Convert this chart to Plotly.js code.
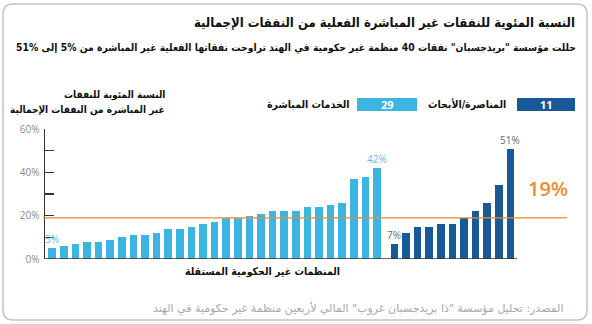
<!DOCTYPE html>
<html>
<head>
<meta charset="utf-8">
<script src="https://cdn.plot.ly/plotly-3.0.1.min.js"></script>
<style>html,body{margin:0;padding:0;background:#fff;}#chart{width:592px;height:324px;}</style>
</head>
<body>
<div id="chart"></div>
<script>
// Data
const directServiceValues = [5,6,7,8,8,9,10,11,11,12,14,14,15,16,17,19,19,20,21,22,22,22,24,24,25,26,37,38,42];
const advocacyValues = [7,12,15,15,16,16,19,22,26,34,51];
const averageValue = 19;
const yTickVals = [0,10,20,30,40,50,60];
const yTickText = ['0%','','20%','','40%','','60%'];
const titleText = 'النسبة المئوية للنفقات غير المباشرة الفعلية من النفقات الإجمالية';
const subtitleText = 'حللت مؤسسة "بريدجسبان" نفقات 40 منظمة غير حكومية في الهند تراوحت نفقاتها الفعلية غير المباشرة من %5 إلى %51';
const yTitleLine1 = 'النسبة المئوية للنفقات';
const yTitleLine2 = 'غير المباشرة من النفقات الإجمالية';
const xTitleText = 'المنظمات غير الحكومية المستقلة';
const legendDirect = 'الخدمات المباشرة';
const legendAdvocacy = 'المناصرة/الأبحاث';
const sourceText = 'المصدر: تحليل مؤسسة "ذا بريدجسبان غروب" المالي لأربعين منظمة غير حكومية في الهند';

const lightBlue = '#3db5e2';
const darkBlue = '#175a97';
const orange = '#f08a2c';
const AR = 'DejaVu Sans Condensed, DejaVu Sans';
const AR_WIDE = 'DejaVu Sans';
const NUM = 'Open Sans';

// x positions (gap between groups)
const xDirect = directServiceValues.map((v,i)=>i+1);
const xAdv = advocacyValues.map((v,i)=>directServiceValues.length+1.5+i);

const L=45, R=567, T=129, B=259;
const px = x => (x-L)/(R-L);
const py = y => (B-y)/(B-T);

const traces = [
  {type:'bar', x:xDirect, y:directServiceValues, width:0.66, marker:{color:lightBlue}, hoverinfo:'y', showlegend:false},
  {type:'bar', x:xAdv, y:advocacyValues, width:0.66, marker:{color:darkBlue}, hoverinfo:'y', showlegend:false}
];

function rr(x0,y0,x1,y1,r){
  const X=px, Y=py;
  return `M${X(x0+r)},${Y(y0)} L${X(x1-r)},${Y(y0)} Q${X(x1)},${Y(y0)} ${X(x1)},${Y(y0+r)} L${X(x1)},${Y(y1-r)} Q${X(x1)},${Y(y1)} ${X(x1-r)},${Y(y1)} L${X(x0+r)},${Y(y1)} Q${X(x0)},${Y(y1)} ${X(x0)},${Y(y1-r)} L${X(x0)},${Y(y0+r)} Q${X(x0)},${Y(y0)} ${X(x0+r)},${Y(y0)} Z`;
}

const shapes = [
  {type:'path', xref:'paper', yref:'paper', path:rr(3,4,587,320,10), line:{color:'#c4c4c4', width:1.5}, layer:'below'},
  {type:'line', xref:'x', yref:'y', x0:0.38, x1:xAdv[xAdv.length-1]+0.6, y0:0, y1:0, line:{color:'#333', width:1.5}},
  {type:'line', xref:'paper', yref:'y', x0:px(43), x1:1, y0:averageValue, y1:averageValue, line:{color:orange, width:1.3}},
  {type:'rect', xref:'paper', yref:'paper', x0:px(517), x1:px(575), y0:py(111), y1:py(98), fillcolor:darkBlue, line:{width:0}},
  {type:'rect', xref:'paper', yref:'paper', x0:px(357), x1:px(417), y0:py(111), y1:py(98), fillcolor:lightBlue, line:{width:0}}
];

const nD = directServiceValues.length, nA = advocacyValues.length;
const annotations = [
  {xref:'paper', yref:'paper', x:px(577), y:py(22), xanchor:'right', yanchor:'middle', showarrow:false, text:'<b>'+titleText+'</b>', font:{family:AR, size:13, color:'#111'}},
  {xref:'paper', yref:'paper', x:px(578), y:py(47), xanchor:'right', yanchor:'middle', showarrow:false, text:'<b>'+subtitleText+'</b>', font:{family:AR, size:10.3, color:'#111'}},
  {xref:'paper', yref:'paper', x:px(167), y:py(95), xanchor:'right', yanchor:'middle', showarrow:false, text:'<b>'+yTitleLine1+'</b>', font:{family:AR, size:10, color:'#111'}},
  {xref:'paper', yref:'paper', x:px(167), y:py(110), xanchor:'right', yanchor:'middle', showarrow:false, text:'<b>'+yTitleLine2+'</b>', font:{family:AR, size:10, color:'#111'}},
  {xref:'paper', yref:'paper', x:px(342), y:py(271), xanchor:'right', yanchor:'middle', showarrow:false, text:'<b>'+xTitleText+'</b>', font:{family:AR, size:10.5, color:'#111'}},
  {xref:'paper', yref:'paper', x:px(566), y:py(308), xanchor:'right', yanchor:'middle', showarrow:false, text:sourceText, font:{family:AR_WIDE, size:11, color:'#a8a8a8'}},
  {xref:'paper', yref:'paper', x:px(546), y:py(104.5), xanchor:'center', yanchor:'middle', showarrow:false, text:'<b>'+nA+'</b>', font:{family:NUM, size:11, color:'#fff'}},
  {xref:'paper', yref:'paper', x:px(387), y:py(104.5), xanchor:'center', yanchor:'middle', showarrow:false, text:'<b>'+nD+'</b>', font:{family:NUM, size:11, color:'#fff'}},
  {xref:'paper', yref:'paper', x:px(508), y:py(104), xanchor:'right', yanchor:'middle', showarrow:false, text:'<b>'+legendAdvocacy+'</b>', font:{family:AR, size:10.5, color:'#111'}},
  {xref:'paper', yref:'paper', x:px(352), y:py(104), xanchor:'right', yanchor:'middle', showarrow:false, text:'<b>'+legendDirect+'</b>', font:{family:AR, size:10.5, color:'#111'}},
  {xref:'x', yref:'y', x:xDirect[0], y:directServiceValues[0], yanchor:'bottom', xanchor:'center', showarrow:false, text:directServiceValues[0]+'%', font:{family:NUM, size:10, color:'#5cc0ea'}},
  {xref:'x', yref:'y', x:xDirect[nD-1], y:directServiceValues[nD-1], yanchor:'bottom', xanchor:'center', showarrow:false, text:directServiceValues[nD-1]+'%', font:{family:NUM, size:10, color:'#5cc0ea'}},
  {xref:'x', yref:'y', x:xAdv[0], y:advocacyValues[0], yanchor:'bottom', xanchor:'center', showarrow:false, text:advocacyValues[0]+'%', font:{family:NUM, size:10, color:'#5d6f82'}},
  {xref:'x', yref:'y', x:xAdv[nA-1], y:advocacyValues[nA-1], yanchor:'bottom', xanchor:'center', showarrow:false, text:advocacyValues[nA-1]+'%', font:{family:NUM, size:10, color:'#5d6f82'}},
  {xref:'paper', yref:'paper', x:px(548), y:py(188.5), xanchor:'center', yanchor:'middle', showarrow:false, text:averageValue+'%', font:{family:NUM, size:20, weight:600, color:orange}}
];

const layout = {
  width:592, height:324,
  margin:{l:L, r:592-R, t:T, b:324-B, pad:0},
  paper_bgcolor:'#fff', plot_bgcolor:'rgba(0,0,0,0)',
  bargap:0,
  xaxis:{range:[0.38, 0.38+(R-L)/11.6], showline:false, showgrid:false, zeroline:false, showticklabels:false, ticks:'', fixedrange:true},
  yaxis:{range:[0,60], tickvals:yTickVals, ticktext:yTickText, ticks:'inside', ticklen:9, tickwidth:1.3, tickcolor:'#333', showline:true, linecolor:'#333', linewidth:1.5, showgrid:false, zeroline:false, tickfont:{family:NUM, size:10, color:'#8a8a8a'}, ticklabelstandoff:2, fixedrange:true},
  shapes:shapes,
  annotations:annotations,
  showlegend:false
};

Plotly.newPlot('chart', traces, layout, {staticPlot:true, displayModeBar:false});
</script>
</body>
</html>
